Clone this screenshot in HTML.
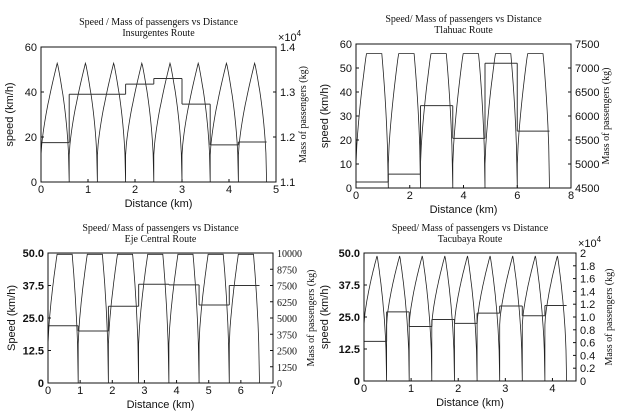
<!DOCTYPE html>
<html><head><meta charset="utf-8">
<style>
html,body{margin:0;padding:0;background:#fff;}
svg{display:block;}
.t{font-family:"Liberation Serif",serif;font-size:10px;fill:#111;}
.k{font-family:"Liberation Sans",sans-serif;font-size:11px;fill:#111;}
</style></head>
<body>
<svg id="c" width="618" height="418" viewBox="0 0 618 418"></svg>
<script>
// Panel 1: Insurgentes
const p1Stops=[0,0.6,1.2,1.8,2.4,3.0,3.6,4.2,4.8];
const p1Peak=[53,53,53,53,53,53,53,53];
const p1MassEdges=[0,0.6,1.8,2.4,3.0,3.6,4.2,4.8];
const p1Mass=[11875,12950,13175,13300,12730,11825,11890];
const p1XTicks=[0,1,2,3,4,5];
const p1YTicks=[0,20,40,60];
const p1RTicks=[11000,12000,13000,14000];
const p1RLabels=["1.1","1.2","1.3","1.4"];
// Panel 2: Tlahuac
const p2Stops=[0,1.2,2.4,3.6,4.8,6.0,7.2];
const p2Peak=[56,56,56,56,56,56];
const p2MassEdges=[0,1.2,2.4,3.6,4.8,6.0,7.2];
const p2Mass=[4625,4790,6215,5535,7100,5685];
const p2XTicks=[0,2,4,6,8];
const p2YTicks=[0,10,20,30,40,50,60];
const p2RTicks=[4500,5000,5500,6000,6500,7000,7500];
const p2RLabels=["4500","5000","5500","6000","6500","7000","7500"];
// Panel 3: Eje Central
const p3Stops=[0,0.94,1.88,2.82,3.76,4.7,5.64,6.58];
const p3Peak=[49.5,49.5,49.5,49.5,49.5,49.5,49.5];
const p3MassEdges=[0,0.94,1.88,2.82,3.76,4.7,5.64,6.58];
const p3Mass=[4400,4000,5900,7600,7550,6000,7500];
const p3XTicks=[0,1,2,3,4,5,6,7];
const p3YTicks=[0,12.5,25,37.5,50];
const p3YLabels=["0","12.5","25.0","37.5","50.0"];
const p3RTicks=[0,1250,2500,3750,5000,6250,7500,8750,10000];
const p3RLabels=["0","1250","2500","3750","5000","6250","7500","8750","10000"];
// Panel 4: Tacubaya
const p4Stops=[0,0.48,0.96,1.44,1.92,2.4,2.88,3.36,3.84,4.3];
const p4Peak=[49,49,49,49,49,49,49,49,49];
const p4MassEdges=[0,0.48,0.96,1.44,1.92,2.4,2.88,3.36,3.84,4.3];
const p4Mass=[6200,10800,8520,9600,9000,10600,11720,10200,11800];
const p4XTicks=[0,1,2,3,4];
const p4YTicks=[0,12.5,25,37.5,50];
const p4YLabels=["0","12.5","25.0","37.5","50.0"];
const p4RTicks=[0,2000,4000,6000,8000,10000,12000,14000,16000,18000,20000];
const p4RLabels=["0","0.2","0.4","0.6","0.8","1.0","1.2","1.4","1.6","1.8","2"];

const NS="http://www.w3.org/2000/svg";
const svg=document.getElementById('c');
function mk(tag,attrs,parent,txt){const e=document.createElementNS(NS,tag);for(const k in attrs)e.setAttribute(k,attrs[k]);if(txt!==undefined)e.textContent=txt;(parent||svg).appendChild(e);return e;}

function panel(cfg){
  const g=mk('g',{});
  
  
  const {L,R,T,B}=cfg;
  const sx=v=>L+(v-cfg.x0)/(cfg.x1-cfg.x0)*(R-L);
  const sy=v=>B-(v-cfg.y0)/(cfg.y1-cfg.y0)*(B-T);
  const sr=v=>B-(v-cfg.r0)/(cfg.r1-cfg.r0)*(B-T);
  const t1=mk('text',{x:(L+R)/2,y:T-22,'text-anchor':'middle',class:'t'},g,cfg.title);
  
  
  const t2=mk('text',{x:(L+R)/2,y:T-11,'text-anchor':'middle',class:'t'},g,cfg.sub);
  
  
  let d='';
  for(let i=0;i<cfg.stops.length-1;i++){
    const s=cfg.stops[i],e=cfg.stops[i+1],Ls=e-s,vp=cfg.peak[i];
    const pts=[];const N=40;
    pts.push([s,0]);
    for(let j=0;j<=N;j++){
      const t=j/N*Ls;let v;
      if(cfg.kind==='arch'){
        const tp=cfg.tp*Ls;
        if(t<=tp) v=cfg.v0+(vp-cfg.v0)*Math.pow(t/tp,0.7);
        else v=vp*Math.pow((Ls-t)/(Ls-tp),0.5);
      }else{
        const a=cfg.ta*Ls,b=cfg.tb*Ls;
        if(t<=a) v=cfg.v0+(vp-cfg.v0)*Math.pow(t/a,0.7);
        else if(t<=b) v=vp;
        else v=vp*Math.pow((Ls-t)/(Ls-b),0.55);
      }
      pts.push([s+t,v]);
    }
    pts.forEach((p,k)=>{d+=(i===0&&k===0?'M':'L')+sx(p[0]).toFixed(1)+','+sy(p[1]).toFixed(1);});
  }
  const sp=mk('path',{d:d,fill:'none',stroke:'#222','stroke-width':0.8},g);
  
  
  for(let i=0;i<cfg.mass.length;i++){
    const x0=sx(cfg.medges[i]),x1=sx(cfg.medges[i+1]),y=sr(cfg.mass[i]);
    const m=mk('path',{d:`M${x0},${y}L${x1},${y}`,stroke:'#333','stroke-width':1,fill:'none'},g);
    
    
    if(i>0){const yp=sr(cfg.mass[i-1]);mk('path',{d:`M${x0},${yp}L${x0},${y}`,stroke:'#333','stroke-width':1},g);}
  }
  const bx=mk('rect',{x:L,y:T,width:R-L,height:B-T,fill:'none',stroke:'#111','stroke-width':1},g);
  
  
  cfg.xt.forEach(v=>{
    const x=sx(v);
    mk('line',{x1:x,x2:x,y1:B,y2:B-3,stroke:'#111'},g);
    const tx=mk('text',{x:x,y:B+11,'text-anchor':'middle',class:'k'},g,String(v));
    
    
  });
  cfg.yt.forEach((v,i)=>{
    const y=sy(v);
    mk('line',{x1:L,x2:L+3,y1:y,y2:y,stroke:'#111'},g);
    const tx=mk('text',{x:L-4,y:y+4,'text-anchor':'end',class:'k','font-weight':cfg.boldY?'bold':'normal'},g,cfg.yl?cfg.yl[i]:String(v));
    
    
  });
  cfg.rt.forEach((v,i)=>{
    const y=sr(v);
    mk('line',{x1:R,x2:R-3,y1:y,y2:y,stroke:'#111'},g);
    const tx=mk('text',{x:R+4,y:y+4,class:cfg.rserif?'t':'k','font-size':cfg.rfs||11},g,cfg.rl[i]);
    
    
  });
  const xl=mk('text',{x:(L+R)/2,y:B+25,'text-anchor':'middle',class:'k'},g,'Distance (km)');
  
  
  const yl=mk('text',{x:0,y:0,'text-anchor':'middle',class:'k',transform:`translate(${L-cfg.ylx},${(T+B)/2}) rotate(-90)`},g,cfg.ylabel);
  
  
  if(cfg.rlabel){
    const rl=mk('text',{x:0,y:0,'text-anchor':'middle',class:'t',transform:`translate(${cfg.rlx},${(T+B)/2}) rotate(-90)`},g,'Mass of passengers (kg)');
    
    
  }
  if(cfg.exp){
    const ex=mk('text',{x:R+2,y:T-6,class:'k','font-size':10},g);
    mk('tspan',{},ex,'×10');
    mk('tspan',{dy:-5,'font-size':8},ex,'4');
    
    
  }
}

panel({name:'insurgentes-chart',L:41,R:276,T:47,B:182,x0:0,x1:5,y0:0,y1:60,r0:11000,r1:14000,
  title:'Speed / Mass of passengers vs Distance',sub:'Insurgentes Route',kind:'arch',tp:0.58,v0:12,
  stops:p1Stops,peak:p1Peak,medges:p1MassEdges,mass:p1Mass,xt:p1XTicks,yt:p1YTicks,rt:p1RTicks,rl:p1RLabels,
  ylabel:'speed (km/h)',ylx:28,rlabel:true,rlx:306,exp:true});
panel({name:'tlahuac-chart',L:356,R:571,T:44,B:188,x0:0,x1:8,y0:0,y1:60,r0:4500,r1:7500,
  title:'Speed/ Mass of  passengers vs Distance',sub:'Tlahuac Route',kind:'trap',ta:0.32,tb:0.8,v0:10,
  stops:p2Stops,peak:p2Peak,medges:p2MassEdges,mass:p2Mass,xt:p2XTicks,yt:p2YTicks,rt:p2RTicks,rl:p2RLabels,
  ylabel:'speed (km/h)',ylx:28,rlabel:true,rlx:609});
panel({name:'eje-central-chart',L:48,R:273,T:253,B:383,x0:0,x1:7,y0:0,y1:50,r0:0,r1:10000,
  title:'Speed/ Mass of passengers vs Distance',sub:'Eje Central Route',kind:'trap',ta:0.3,tb:0.8,v0:15,
  stops:p3Stops,peak:p3Peak,medges:p3MassEdges,mass:p3Mass,xt:p3XTicks,yt:p3YTicks,yl:p3YLabels,boldY:true,rt:p3RTicks,rl:p3RLabels,rserif:true,rfs:10,
  ylabel:'Speed (km/h)',ylx:33,rlabel:true,rlx:314});
panel({name:'tacubaya-chart',L:364,R:576,T:253,B:381,x0:0,x1:4.5,y0:0,y1:50,r0:0,r1:20000,
  title:'Speed/ Mass of passengers vs Distance',sub:'Tacubaya  Route',kind:'arch',tp:0.58,v0:22,
  stops:p4Stops,peak:p4Peak,medges:p4MassEdges,mass:p4Mass,xt:p4XTicks,yt:p4YTicks,yl:p4YLabels,boldY:true,rt:p4RTicks,rl:p4RLabels,
  ylabel:'speed (km/h)',ylx:36,rlabel:true,rlx:612,exp:true});
</script>
</body></html>
